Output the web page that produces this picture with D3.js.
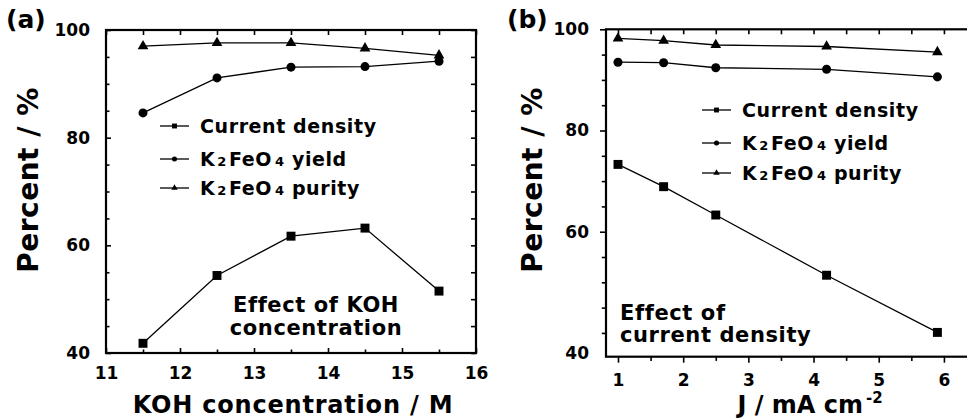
<!DOCTYPE html>
<html>
<head>
<meta charset="utf-8">
<title>K2FeO4 synthesis</title>
<style>
  * { margin: 0; padding: 0; }
  body { background: #fff; width: 967px; height: 419px; overflow: hidden; }
  svg text { font-family: "DejaVu Sans", sans-serif; font-weight: bold; fill: #000; }
</style>
</head>
<body>
<svg id="chart" width="967" height="419"></svg>
<script src="https://cdnjs.cloudflare.com/ajax/libs/d3/7.8.5/d3.min.js"></script>
<script>
// (a) effect of KOH concentration
const kohConc = [11.5, 12.5, 13.5, 14.5, 15.5];
const kohCurrent = [41.8, 54.4, 61.7, 63.2, 51.5];
const kohYield = [84.6, 91.1, 93.1, 93.2, 94.2];
const kohPurity = [97.0, 97.6, 97.6, 96.6, 95.3];

// (b) effect of current density
const currDens = [1, 1.7, 2.5, 4.2, 5.9];
const cdCurrent = [73.3, 68.9, 63.3, 51.4, 40.1];
const cdYield = [93.5, 93.4, 92.4, 92.1, 90.6];
const cdPurity = [98.2, 97.75, 96.9, 96.6, 95.5];

const xTicksA = [11, 12, 13, 14, 15, 16];
const xMinorA = [11.5, 12.5, 13.5, 14.5, 15.5];
const xTicksB = [1, 2, 3, 4, 5, 6];
const xMinorB = [1.5, 2.5, 3.5, 4.5, 5.5];
const yTicksA = [40, 60, 80, 100];
const yTicksB = [60, 80, 100];
const yMinor = [45, 50, 55, 65, 70, 75, 85, 90, 95];

const seriesNames = ['Current density', 'yield', 'purity'];

const svg = d3.select('#chart');

const markers = [
  { type: d3.symbolSquare, big: 80, small: 24 },
  { type: d3.symbolCircle, big: 64, small: 20 },
  { type: d3.symbolTriangle, big: 50, small: 18 }
];

function drawPanel(cfg) {
  const g = svg.append('g');
  const x = d3.scaleLinear().domain(cfg.xDomain).range(cfg.xRange);
  const y = d3.scaleLinear().domain(cfg.yDomain).range(cfg.yRange);
  const [x0, x1] = cfg.xRange;
  const [y0, y1] = cfg.yRange; // y0 bottom, y1 top

  // series
  const line = d3.line().x(d => x(d[0])).y(d => y(d[1]));
  cfg.series.forEach((vals, i) => {
    const pts = cfg.xs.map((v, j) => [v, vals[j]]);
    g.append('path').datum(pts)
      .attr('d', line).attr('fill', 'none')
      .attr('stroke', '#000').attr('stroke-width', 1.3);
    g.selectAll(null).data(pts).enter().append('path')
      .attr('transform', d => `translate(${x(d[0])},${y(d[1])})`)
      .attr('d', d3.symbol().type(markers[i].type).size(markers[i].big))
      .attr('fill', '#000');
  });

  // axes
  const fmt = d3.format('d');
  const bottom = g.append('g').attr('transform', `translate(0,${y0})`);
  bottom.call(d3.axisBottom(x).tickValues(cfg.xTicks).tickFormat(fmt).tickSizeInner(cfg.bottomTick).tickSizeOuter(0).tickPadding(cfg.xPad));
  bottom.append('g').call(d3.axisBottom(x).tickValues(cfg.xMinor).tickSizeInner(cfg.bottomTick * 0.7).tickSizeOuter(0).tickFormat(''));

  const left = g.append('g').attr('transform', `translate(${x0},0)`);
  left.call(d3.axisLeft(y).tickValues(cfg.yTicks).tickFormat(fmt).tickSizeInner(cfg.leftTick).tickSizeOuter(0).tickPadding(cfg.yPad));
  left.append('g').call(d3.axisLeft(y).tickValues(yMinor.concat(cfg.extraMinor)).tickSizeInner(cfg.leftTick * 0.7).tickSizeOuter(0).tickFormat(''));

  const top = g.append('g').attr('transform', `translate(0,${y1})`);
  top.call(d3.axisTop(x).tickValues(cfg.xTicks.concat(cfg.xMinor)).tickSizeInner(-5).tickSizeOuter(0).tickFormat(''));

  if (cfg.rightTicks) {
    const right = g.append('g').attr('transform', `translate(${x1},0)`);
    right.call(d3.axisRight(y).tickValues(cfg.yTicks.concat(yMinor)).tickSizeInner(-5).tickSizeOuter(0).tickFormat(''));
  }

  g.selectAll('.domain').remove();
  g.selectAll('.tick line').attr('stroke-width', 1.6);
  g.selectAll('.tick text').style('font-size', '17px');

  g.append('rect')
    .attr('x', x0).attr('y', y1)
    .attr('width', x1 - x0).attr('height', y0 - y1)
    .attr('fill', 'none').attr('stroke', '#000').attr('stroke-width', 2.2);

  // panel letter
  g.append('text').attr('x', cfg.letterX).attr('y', 28)
    .style('font-size', '25px').text(cfg.letter);

  // y title
  g.append('text')
    .attr('transform', `translate(${cfg.yTitleX},180) rotate(-90)`)
    .attr('text-anchor', 'middle')
    .style('font-size', '28px').style('letter-spacing', '0.5px')
    .text('Percent / %');

  // legend
  cfg.legendRows.forEach((ly, i) => {
    const lx = cfg.legendX;
    g.append('line').attr('x1', lx).attr('x2', lx + 29)
      .attr('y1', ly - 7).attr('y2', ly - 7)
      .attr('stroke', '#000').attr('stroke-width', 1.3);
    g.append('path')
      .attr('transform', `translate(${lx + 14.5},${ly - 7})`)
      .attr('d', d3.symbol().type(markers[i].type).size(markers[i].small))
      .attr('fill', '#000');
    const t = g.append('text').attr('x', lx + 40).attr('y', ly)
      .style('font-size', '19px').style('letter-spacing', '0.6px');
    if (i === 0) {
      t.text(seriesNames[0]);
    } else {
      t.append('tspan').text('K');
      t.append('tspan').style('font-size', '13px').attr('dx', 2).text('2');
      t.append('tspan').attr('dx', 2).text('FeO');
      t.append('tspan').style('font-size', '13px').attr('dx', 3).text('4');
      t.append('tspan').text(' ' + seriesNames[i]);
    }
  });

  return { g, x, y };
}

// panel (a)
const pa = drawPanel({
  xDomain: [11, 16], xRange: [106, 476],
  yDomain: [40, 100], yRange: [353, 30],
  xs: kohConc, series: [kohCurrent, kohYield, kohPurity],
  xTicks: xTicksA, xMinor: xMinorA, yTicks: yTicksA, extraMinor: [],
  bottomTick: -5, leftTick: -5, xPad: 14, yPad: 16, rightTicks: true,
  letter: '(a)', letterX: 6, yTitleX: 38,
  legendX: 160, legendRows: [133, 166, 195]
});
pa.g.append('text').attr('x', 316).attr('y', 312).attr('text-anchor', 'middle')
  .style('font-size', '21px').style('letter-spacing', '0.6px').text('Effect of KOH');
pa.g.append('text').attr('x', 316).attr('y', 335).attr('text-anchor', 'middle')
  .style('font-size', '21px').style('letter-spacing', '0.6px').text('concentration');
pa.g.append('text').attr('x', 293).attr('y', 413).attr('text-anchor', 'middle')
  .style('font-size', '24px').style('letter-spacing', '0.8px').text('KOH concentration / M');

// panel (b)
const pb = drawPanel({
  xDomain: [0.816, 6.4], xRange: [606, 970],
  yDomain: [35.3, 100], yRange: [356.7, 29.3],
  xs: currDens, series: [cdCurrent, cdYield, cdPurity],
  xTicks: xTicksB, xMinor: xMinorB, yTicks: yTicksB, extraMinor: [40],
  bottomTick: 6, leftTick: 6, xPad: 11, yPad: 11, rightTicks: false,
  letter: '(b)', letterX: 507, yTitleX: 542,
  legendX: 702, legendRows: [117, 150, 180]
});
// the "40" label sits at the foot of the axis in the original
pb.g.append('text').attr('x', 589).attr('y', pb.y(pb.y.domain()[0]) + 2)
  .attr('text-anchor', 'end').style('font-size', '17px').text('40');
pb.g.append('text').attr('x', 620).attr('y', 320)
  .style('font-size', '21px').style('letter-spacing', '0.6px').text('Effect of');
pb.g.append('text').attr('x', 620).attr('y', 342)
  .style('font-size', '21px').style('letter-spacing', '0.6px').text('current density');
const xt = pb.g.append('text').attr('x', 810).attr('y', 413).attr('text-anchor', 'middle')
  .style('font-size', '24px');
xt.append('tspan').text('J / mA cm');
xt.append('tspan').attr('dx', 3).attr('dy', -10).style('font-size', '15px').text('-2');
</script>
</body>
</html>
